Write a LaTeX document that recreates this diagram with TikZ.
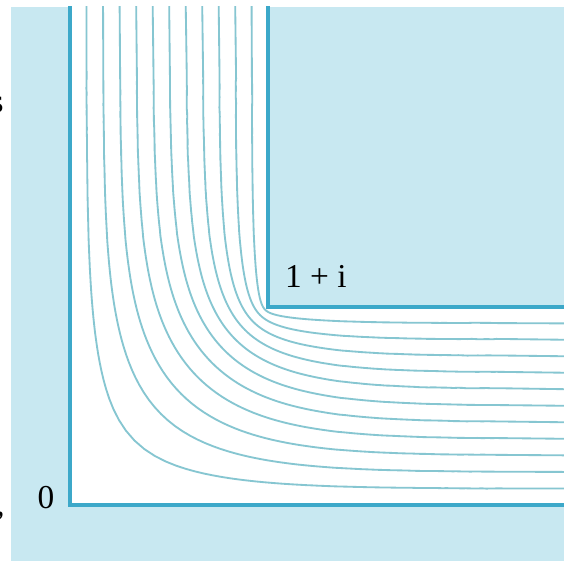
\documentclass[tikz,border=0pt]{standalone}
\usepackage{fontspec}
\setmainfont{Liberation Serif}
\usetikzlibrary{positioning}

\definecolor{chanbg}{HTML}{C8E8F1}
\definecolor{wallcol}{HTML}{3CA8C9}
\definecolor{flowcol}{HTML}{86C6D1}

\begin{document}
\begin{tikzpicture}[x=3.96cm,y=3.96cm,
  wall/.style={line width=2.1pt,wallcol,line join=miter},
  stream/.style={line width=1.05pt,flowcol},
  lbl/.style={font=\fontsize{19}{22}\selectfont,inner sep=0pt},
  declare function={
    za(\lr,\ang)=exp(\lr)*cos(\ang);
    zb(\lr,\ang)=exp(\lr)*sin(\ang);
    tm(\lr,\ang)=sqrt(veclen(za(\lr,\ang)+1,zb(\lr,\ang))/veclen(za(\lr,\ang)-1,zb(\lr,\ang)));
    ta(\lr,\ang)=(atan2(zb(\lr,\ang),za(\lr,\ang)+1)-atan2(zb(\lr,\ang),za(\lr,\ang)-1))/2;
    tp(\lr,\ang)=tm(\lr,\ang)*cos(ta(\lr,\ang));
    tq(\lr,\ang)=tm(\lr,\ang)*sin(ta(\lr,\ang));
    gx(\p,\q)=(ln(veclen(\p+1,\q))-ln(veclen(\p-1,\q)))/pi-(atan2(\p,1-\q)-atan2(-\p,1+\q))/180+1;
    gy(\p,\q)=(atan2(\q,\p+1)-atan2(\q,\p-1))/180+(ln(veclen(1-\q,\p))-ln(veclen(1+\q,\p)))/pi;
    fx(\lr,\ang)=gx(tp(\lr,\ang),tq(\lr,\ang));
    fy(\lr,\ang)=gy(tp(\lr,\ang),tq(\lr,\ang));
  }]
\useasboundingbox (-0.35354,-0.28283) rectangle (2.49495,2.55051);
\clip (-0.35354,-0.28283) rectangle (2.49495,2.55051);
% channel corners
\coordinate (O) at (0,0);
\coordinate (C) at (1,1);
\coordinate (Otop) at (0,2.6);
\coordinate (Oright) at (2.6,0);
\coordinate (Ctop) at (1,2.6);
\coordinate (Cright) at (2.6,1);
\fill[chanbg] (-0.29798,-0.28283) rectangle (2.49495,2.51515);
\begin{scope}
\clip (-0.29798,-0.28283) rectangle (2.49495,2.51515);
\fill[white] (Otop) -- (O) -- (Oright) -- (Cright) -- (C) -- (Ctop) -- cycle;
% streamlines
\foreach \k in {15,30,...,165} {
  \draw[stream] (\k/180,2.6)
    -- plot[domain=-4.5:0,samples=60,variable=\s] ({fx(\s,\k)},{fy(\s,\k)})
    -- plot[domain=0:-4.5,samples=60,variable=\s] ({fy(\s,\k)},{fx(\s,\k)})
    -- (2.6,\k/180);
}
\draw[wall] (Otop) -- (O) -- (Oright);
\draw[wall] (Ctop) -- (C) -- (Cright);
\end{scope}
\node[lbl] (zero) at (-0.121,0.040) {0};
\node[lbl] (corner) at (1.242,1.152) {1 + i};
\node[lbl,anchor=base east] (fragS) at (-0.3333,1.9848) {s};
\node[lbl,anchor=base east] (fragC) at (-0.3283,-0.055) {,};
\end{tikzpicture}
\end{document}
